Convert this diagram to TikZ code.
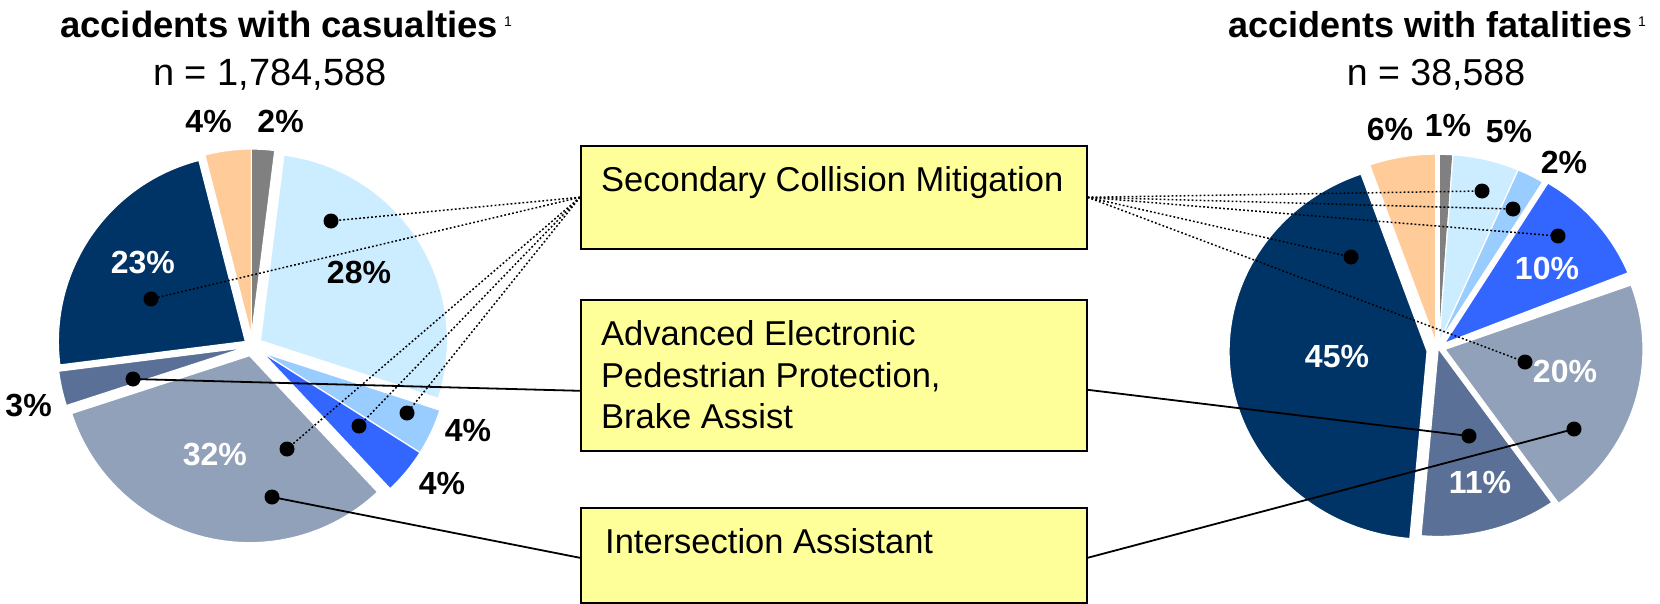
\documentclass[tikz,border=0pt]{standalone}
\usepackage{fontspec}
\setmainfont{Liberation Sans}
\usetikzlibrary{calc}

\definecolor{navy}{HTML}{003366}
\definecolor{slate}{HTML}{5B7096}
\definecolor{greyblue}{HTML}{91A1BA}
\definecolor{brightblue}{HTML}{3366FF}
\definecolor{midblue}{HTML}{99CCFF}
\definecolor{paleblue}{HTML}{CCECFF}
\definecolor{peach}{HTML}{FFCC99}
\definecolor{midgrey}{HTML}{808080}
\definecolor{boxyellow}{HTML}{FFFF99}

% #1,#2 centre; #3,#4 radii; #5 -> #6 angles (counter-clockwise degrees);
% #7 explode distance; #8 explode direction; #9 colour
\newcommand\pieslice[9]{%
  \fill[#9, draw=white, line width=1.2pt]
    ({#1+#7*cos(#8)},{#2-#7*sin(#8)})
    -- +({#3*cos(#5)},{-#4*sin(#5)})
    arc[start angle={-(#5)}, end angle={-(#6)}, x radius=#3, y radius=#4]
    -- cycle;}

\begin{document}
\begin{tikzpicture}[x=1pt, y=-1pt,
  boxnode/.style={draw=black, line width=1.6pt, fill=boxyellow, inner sep=0pt, anchor=north west},
  boxtext/.style={font=\fontsize{34.5}{41.5}\selectfont, inner sep=0pt, align=left},
  dotnode/.style={circle, fill=black, inner sep=0pt, minimum size=15pt},
  pct/.style={font=\bfseries\fontsize{32}{36}\selectfont, inner sep=0pt},
  pctw/.style={pct, text=white},
  titletext/.style={font=\bfseries\fontsize{36.5}{40}\selectfont, inner sep=0pt, anchor=base},
  counttext/.style={font=\fontsize{38}{42}\selectfont, inner sep=0pt, anchor=base},
  dotlink/.style={line width=1.5pt, dash pattern=on 1.8pt off 2.2pt},
  solidlink/.style={line width=1.8pt}
]
\useasboundingbox (0,0) rectangle (1660,603);

% ---- left pie: accidents with casualties
\pieslice{252}{346}{187}{187}{90}{82.8}{10}{93.6}{midgrey}
\pieslice{252}{346}{187}{187}{82.8}{-18}{10}{32.4}{paleblue}
\pieslice{252}{346}{187}{187}{-18}{-32.4}{12}{-32.4}{midblue}
\pieslice{252}{346}{187}{187}{-32.4}{-46.8}{12}{-32.4}{brightblue}
\pieslice{252}{346}{187}{187}{-46.8}{-162}{10}{-104.4}{greyblue}
\pieslice{252}{346}{187}{187}{-162}{-172.8}{8}{-167.4}{slate}
\pieslice{252}{346}{187}{187}{-172.8}{-255.6}{8}{-214.2}{navy}
\pieslice{252}{346}{187}{187}{104.4}{90}{10}{93.6}{peach}

% ---- right pie: accidents with fatalities
\pieslice{1437}{350}{198}{188}{90}{86}{8}{74.25}{midgrey}
\pieslice{1437}{350}{198}{188}{86}{66.5}{8}{74.25}{paleblue}
\pieslice{1437}{350}{198}{188}{66.5}{58.5}{8}{74.25}{midblue}
\pieslice{1437}{350}{198}{188}{58.5}{22}{10}{42}{brightblue}
\pieslice{1437}{350}{198}{188}{20}{-55}{8}{5}{greyblue}
\pieslice{1437}{350}{198}{188}{-55}{-95}{2}{51}{slate}
\pieslice{1437}{350}{198}{188}{-95}{-250.5}{10}{-172.75}{navy}
\pieslice{1437}{350}{198}{188}{109.5}{90}{8}{99.75}{peach}

% ---- titles
\node[titletext] (lefttitle) at (286,37) {accidents with casualties\hspace{6pt}\raisebox{11pt}{\mdseries\fontsize{14}{14}\selectfont 1}};
\node[counttext] (leftcount) at (270,85) {n = 1,784,588};
\node[titletext, font=\bfseries\fontsize{36}{40}\selectfont] (righttitle) at (1437,37) {accidents with fatalities\hspace{6pt}\raisebox{11pt}{\mdseries\fontsize{14}{14}\selectfont 1}};
\node[counttext, font=\fontsize{37.5}{42}\selectfont] (rightcount) at (1436,85) {n = 38,588};

% ---- percentage labels, left pie
\node[pct] (lp4a) at (208.6,121.8) {4\%};
\node[pct] (lp2) at (280.6,121.8) {2\%};
\node[pct] (lp28) at (359,272.5) {28\%};
\node[pctw] (lp23) at (142.9,262.6) {23\%};
\node[pct] (lp3) at (28.6,405.5) {3\%};
\node[pctw] (lp32) at (214.9,454) {32\%};
\node[pct] (lp4b) at (468,430.5) {4\%};
\node[pct] (lp4c) at (442,483) {4\%};

% ---- percentage labels, right pie
\node[pct] (rp6) at (1390,129) {6\%};
\node[pct] (rp1) at (1448,125) {1\%};
\node[pct] (rp5) at (1509,132) {5\%};
\node[pct] (rp2) at (1564,162) {2\%};
\node[pctw] (rp10) at (1547,268) {10\%};
\node[pctw] (rp45) at (1337,357) {45\%};
\node[pctw] (rp20) at (1565,371) {20\%};
\node[pctw] (rp11) at (1480,482) {11\%};

% ---- measure boxes
\node[boxnode, minimum width=506pt, minimum height=103pt] (scm) at (580,145) {};
\node[boxnode, minimum width=506pt, minimum height=151pt] (aep) at (580,299) {};
\node[boxnode, minimum width=506pt, minimum height=95pt] (ia) at (580,507) {};

\node[boxtext, anchor=base west] (scmlabel) at (601,191) {Secondary Collision Mitigation};
\node[boxtext, anchor=north west] (aeplabel) at (601,320.5) {Advanced Electronic\\Pedestrian Protection,\\Brake Assist};
\node[boxtext, anchor=base west] (ialabel) at (605,553) {Intersection Assistant};

\coordinate (aepL) at ([yshift=-15.5pt]aep.west);
\coordinate (aepR) at ([yshift=-14.5pt]aep.east);
\coordinate (iaL) at ([yshift=-2.5pt]ia.west);
\coordinate (iaR) at ([yshift=-2.5pt]ia.east);

% ---- marker dots
\node[dotnode] (l28) at (331,221) {};
\node[dotnode] (l23) at (151,299) {};
\node[dotnode] (l3) at (133,379) {};
\node[dotnode] (l4a) at (407,413) {};
\node[dotnode] (l4b) at (359,426) {};
\node[dotnode] (l32a) at (287,449) {};
\node[dotnode] (l32b) at (272,497) {};

\node[dotnode] (r5) at (1482,191) {};
\node[dotnode] (r2) at (1513,209) {};
\node[dotnode] (r10) at (1558,236) {};
\node[dotnode] (r45) at (1351,257) {};
\node[dotnode] (r20a) at (1525,362) {};
\node[dotnode] (r11) at (1469,436) {};
\node[dotnode] (r20b) at (1574,429) {};

% ---- connectors
\foreach \d in {l28,l23,l4a,l4b,l32a} \draw[dotlink] (scm.west) -- (\d.center);
\foreach \d in {r5,r2,r10,r45,r20a} \draw[dotlink] (scm.east) -- (\d.center);
\draw[solidlink] (aepL) -- (l3.center);
\draw[solidlink] (aepR) -- (r11.center);
\draw[solidlink] (iaL) -- (l32b.center);
\draw[solidlink] (iaR) -- (r20b.center);
\end{tikzpicture}
\end{document}
